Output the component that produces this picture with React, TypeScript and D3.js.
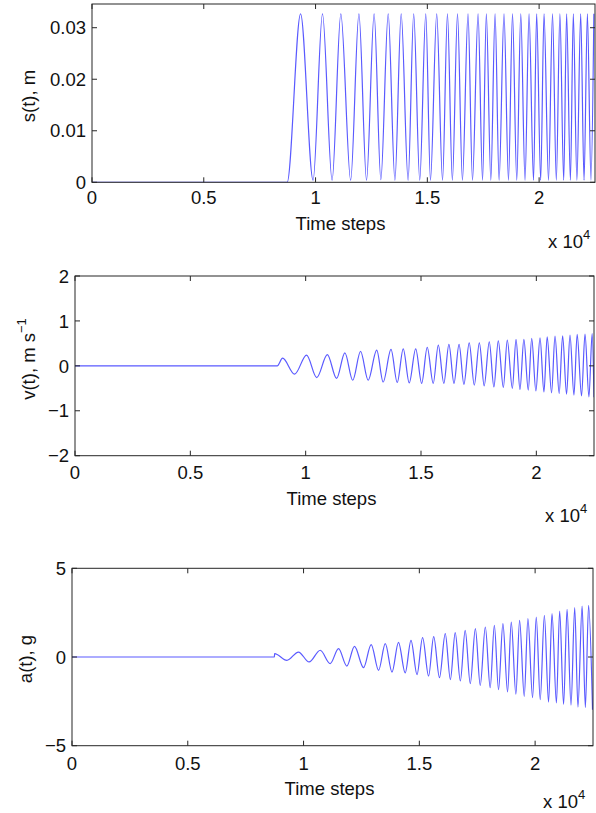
import React from 'react';
import * as d3 from 'd3';

// x axis: time steps (labels shown in units of 10^4)
const timeTicks = [0, 5000, 10000, 15000, 20000];
const timeTickLabels = ['0', '0.5', '1', '1.5', '2'];
const timeMax = 22500;

// s(t), m — displacement extrema
const sTime = [0, 8730, 9330, 9890, 10310, 10740, 11130, 11570, 11940, 12280, 12620, 12920, 13250, 13550, 13830, 14140, 14390, 14660, 14930, 15140, 15420, 15680, 15900, 16120, 16350, 16570, 16820, 17020, 17270, 17470, 17640, 17840, 18030, 18210, 18430, 18630, 18810, 19000, 19180, 19370, 19550, 19750, 19890, 20070, 20220, 20420, 20600, 20770, 20930, 21100, 21230, 21400, 21530, 21690, 21860, 22010, 22160, 22320, 22450];
const sValue = [0, 0, 0.0327, 0.0004, 0.0327, 0.0004, 0.0327, 0.0004, 0.0327, 0.0004, 0.0327, 0.0005, 0.0327, 0.0004, 0.0327, 0.0004, 0.0327, 0.0004, 0.0327, 0.0004, 0.0327, 0.0004, 0.0327, 0.0004, 0.0327, 0.0004, 0.0327, 0.0004, 0.0327, 0.0004, 0.0327, 0.0004, 0.0327, 0.0004, 0.0327, 0.0004, 0.0327, 0.0004, 0.0327, 0.0004, 0.0327, 0.0004, 0.0327, 0.0004, 0.0327, 0.0004, 0.0327, 0.0004, 0.0327, 0.0004, 0.0327, 0.0004, 0.0327, 0.0004, 0.0327, 0.0004, 0.0327, 0.0004, 0.0327];
const sTicks = [0, 0.01, 0.02, 0.03];
const sTickLabels = ['0', '0.01', '0.02', '0.03'];

// v(t), m s^-1 — velocity extrema
const vTime = [0, 8770, 9000, 9520, 10040, 10480, 10940, 11340, 11700, 12040, 12380, 12710, 13080, 13360, 13700, 13970, 14230, 14490, 14770, 15030, 15270, 15530, 15750, 15990, 16210, 16430, 16650, 16860, 17090, 17310, 17530, 17740, 17960, 18160, 18350, 18570, 18740, 18960, 19120, 19290, 19460, 19650, 19800, 19980, 20160, 20330, 20470, 20660, 20810, 20990, 21140, 21310, 21460, 21630, 21770, 21960, 22110, 22280, 22420, 22500];
const vValue = [0, 0, 0.17, -0.185, 0.24, -0.26, 0.25, -0.28, 0.29, -0.32, 0.32, -0.32, 0.35, -0.36, 0.365, -0.37, 0.38, -0.38, 0.38, -0.39, 0.41, -0.39, 0.46, -0.39, 0.476, -0.39, 0.476, -0.41, 0.51, -0.43, 0.51, -0.445, 0.535, -0.47, 0.557, -0.48, 0.572, -0.5, 0.588, -0.525, 0.588, -0.54, 0.61, -0.557, 0.624, -0.58, 0.646, -0.6, 0.66, -0.615, 0.668, -0.63, 0.684, -0.65, 0.7, -0.67, 0.706, -0.69, 0.72, -0.7];
const vTicks = [-2, -1, 0, 1, 2];
const vTickLabels = ['\u22122', '\u22121', '0', '1', '2'];

// a(t), g — acceleration extrema
const aTime = [0, 8740, 8750, 9280, 9780, 10240, 10720, 11150, 11510, 11870, 12200, 12590, 12920, 13240, 13530, 13820, 14100, 14390, 14640, 14900, 15140, 15400, 15620, 15870, 16120, 16340, 16550, 16770, 16980, 17200, 17420, 17630, 17850, 18060, 18240, 18420, 18610, 18810, 18970, 19170, 19330, 19530, 19690, 19890, 20050, 20220, 20400, 20580, 20730, 20920, 21060, 21230, 21380, 21550, 21710, 21850, 22030, 22170, 22310, 22480];
const aValue = [0, 0, 0.19, -0.19, 0.28, -0.28, 0.38, -0.37, 0.47, -0.51, 0.6, -0.6, 0.7, -0.75, 0.75, -0.85, 0.83, -0.9, 0.94, -0.99, 1.09, -1.07, 1.15, -1.16, 1.32, -1.27, 1.37, -1.35, 1.5, -1.5, 1.6, -1.6, 1.69, -1.73, 1.79, -1.84, 1.88, -1.97, 1.97, -2.1, 2.07, -2.22, 2.16, -2.29, 2.25, -2.4, 2.35, -2.54, 2.44, -2.59, 2.59, -2.67, 2.69, -2.72, 2.78, -2.82, 2.87, -2.85, 2.91, -2.97];
const aTicks = [-5, 0, 5];
const aTickLabels = ['\u22125', '0', '5'];

const FONT = 'Liberation Sans, Arial, Helvetica, sans-serif';
const TXT = '#111';
const FRAME = '#262626';
const LINE = '#5a5aff';
const FS = 18.5;

type Box = { l: number; r: number; t: number; b: number };

function Panel(props: {
  box: Box;
  yDomain: [number, number];
  yTicks: number[];
  yTickLabels: string[];
  time: number[];
  values: number[];
  xLabelDy: number;
  titleY: number;
  expY: number;
  expX: number;
  yLabelX: number;
  yLabelY: number;
  yLabel: React.ReactNode;
}) {
  const { box, yDomain, yTicks, yTickLabels, time, values } = props;
  const x = d3.scaleLinear().domain([0, timeMax]).range([box.l, box.r]);
  const y = d3.scaleLinear().domain(yDomain).range([box.b, box.t]);
  const line = d3
    .line<number>()
    .x((_, i) => x(time[i]))
    .y((d) => y(d))
    .curve(d3.curveMonotoneX);
  const tl = 5;
  return (
    <g>
      <defs>
        <clipPath id={`clip${Math.round(box.t)}`}>
          <rect x={box.l} y={box.t} width={box.r - box.l} height={box.b - box.t} />
        </clipPath>
      </defs>
      <path
        d={line(values) || ''}
        fill="none"
        stroke={LINE}
        strokeWidth={1.2}
        strokeLinejoin="round"
        clipPath={`url(#clip${Math.round(box.t)})`}
      />
      <rect x={box.l} y={box.t} width={box.r - box.l} height={box.b - box.t} fill="none" stroke={FRAME} strokeWidth={1} />
      {timeTicks.map((t, i) => (
        <g key={'xt' + i}>
          <line x1={x(t)} x2={x(t)} y1={box.b} y2={box.b - tl} stroke={FRAME} />
          <line x1={x(t)} x2={x(t)} y1={box.t} y2={box.t + tl} stroke={FRAME} />
          <text x={x(t)} y={box.b + props.xLabelDy} textAnchor="middle" fontFamily={FONT} fontSize={FS} fill={TXT}>
            {timeTickLabels[i]}
          </text>
        </g>
      ))}
      {yTicks.map((v, i) => (
        <g key={'yt' + i}>
          <line x1={box.l} x2={box.l + tl} y1={y(v)} y2={y(v)} stroke={FRAME} />
          <line x1={box.r} x2={box.r - tl} y1={y(v)} y2={y(v)} stroke={FRAME} />
          <text x={box.l - 6} y={y(v)} dy="0.36em" textAnchor="end" fontFamily={FONT} fontSize={FS} fill={TXT}>
            {yTickLabels[i]}
          </text>
        </g>
      ))}
      <text x={(box.l + box.r) / 2 - 3} y={props.titleY} textAnchor="middle" fontFamily={FONT} fontSize={FS} fill={TXT}>
        Time steps
      </text>
      <text x={props.expX} y={props.expY} textAnchor="start" fontFamily={FONT} fontSize={FS} fill={TXT}>
        x 10
        <tspan dy={-9} fontSize={13}>4</tspan>
      </text>
      <text
        transform={`translate(${props.yLabelX},${props.yLabelY}) rotate(-90)`}
        textAnchor="middle"
        fontFamily={FONT}
        fontSize={FS}
        fill={TXT}
      >
        {props.yLabel}
      </text>
    </g>
  );
}

export default function App() {
  return (
    <svg width={596} height={813} style={{ position: 'absolute', left: 0, top: 0, background: '#fff' }}>
      <rect x={0} y={0} width={596} height={813} fill="#fff" />
      <Panel
        box={{ l: 92, r: 595, t: 4, b: 182.3 }}
        yDomain={[0, 0.0346]}
        yTicks={sTicks}
        yTickLabels={sTickLabels}
        time={sTime}
        values={sValue}
        xLabelDy={21.5}
        titleY={230}
        expX={548}
        expY={248}
        yLabelX={35}
        yLabelY={96}
        yLabel={'s(t), m'}
      />
      <Panel
        box={{ l: 75, r: 594, t: 276, b: 455.7 }}
        yDomain={[-2, 2]}
        yTicks={vTicks}
        yTickLabels={vTickLabels}
        time={vTime}
        values={vValue}
        xLabelDy={23.5}
        titleY={505}
        expX={545}
        expY={521.5}
        yLabelX={35}
        yLabelY={359}
        yLabel={
          <>
            v(t), m s
            <tspan dy={-9} fontSize={13}>{'\u22121'}</tspan>
          </>
        }
      />
      <Panel
        box={{ l: 72, r: 593, t: 568.3, b: 745.7 }}
        yDomain={[-5, 5]}
        yTicks={aTicks}
        yTickLabels={aTickLabels}
        time={aTime}
        values={aValue}
        xLabelDy={24}
        titleY={795}
        expX={543}
        expY={808}
        yLabelX={32}
        yLabelY={659}
        yLabel={'a(t), g'}
      />
    </svg>
  );
}
